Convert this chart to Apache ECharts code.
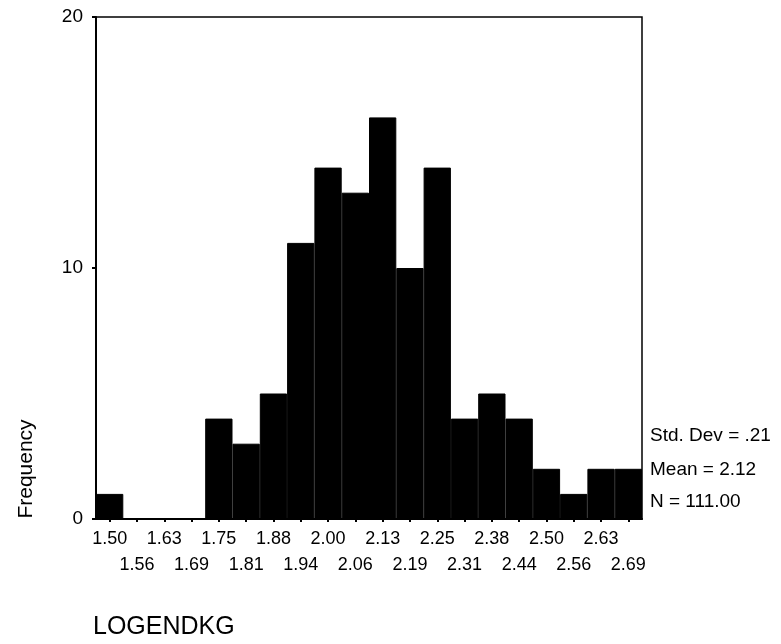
<!DOCTYPE html>
<html>
<head>
<meta charset="utf-8">
<script src="https://cdn.jsdelivr.net/npm/echarts@6/dist/echarts.min.js"></script>
<style>html,body{margin:0;padding:0;background:#fff;}#c{width:781px;height:644px;}</style>
</head>
<body>
<div id="c"></div>
<script>
const categories = ['1.50','1.56','1.63','1.69','1.75','1.81','1.88','1.94','2.00','2.06','2.13','2.19','2.25','2.31','2.38','2.44','2.50','2.56','2.63','2.69'];
const frequency = [1,0,0,0,4,3,5,11,14,13,16,10,14,4,5,4,2,1,2,2];
const yTicks = [0,10,20];
const statsLines = ['Std. Dev = .21','Mean = 2.12','N = 111.00'];
const xTitle = 'LOGENDKG';
const yTitle = 'Frequency';

const font = 'Arial, "Liberation Sans", sans-serif';
const chart = echarts.init(document.getElementById('c'), null, {renderer:'canvas'});
chart.setOption({
  animation:false,
  backgroundColor:'#fff',
  grid:{left:96,right:139,top:17,bottom:125,show:true,borderColor:'#000',borderWidth:1.5,backgroundColor:'transparent'},
  xAxis:{
    type:'category',data:categories,boundaryGap:true,
    axisLine:{show:true,lineStyle:{color:'#000',width:2}},
    axisTick:{show:true,alignWithLabel:true,length:3,lineStyle:{color:'#000',width:2}},
    axisLabel:{interval:0,color:'#000',fontFamily:font,fontSize:18,margin:7,lineHeight:26,
      formatter:(v,i)=> i%2 ? '\n'+v : v}
  },
  yAxis:{
    type:'value',min:yTicks[0],max:yTicks[yTicks.length-1],interval:10,
    splitLine:{show:false},
    axisLine:{show:true,lineStyle:{color:'#000',width:2}},
    axisTick:{show:true,length:4,lineStyle:{color:'#000',width:2}},
    axisLabel:{color:'#000',fontFamily:font,fontSize:19,margin:13}
  },
  series:[{type:'bar',data:frequency,barCategoryGap:'0%',itemStyle:{color:'#000',borderColor:'#000',borderWidth:1}}],
  graphic:[
    {type:'text',x:26,y:469,rotation:Math.PI/2,style:{text:yTitle,fill:'#000',font:'21px '+font,align:'center',verticalAlign:'middle'}},
    {type:'text',x:93,y:627,style:{text:xTitle,fill:'#000',font:'25px '+font,align:'left',verticalAlign:'middle'}},
    {type:'text',x:650,y:436,style:{text:statsLines[0],fill:'#000',font:'19px '+font,verticalAlign:'middle'}},
    {type:'text',x:650,y:470,style:{text:statsLines[1],fill:'#000',font:'19px '+font,verticalAlign:'middle'}},
    {type:'text',x:650,y:502,style:{text:statsLines[2],fill:'#000',font:'19px '+font,verticalAlign:'middle'}}
  ]
});
</script>
</body>
</html>
